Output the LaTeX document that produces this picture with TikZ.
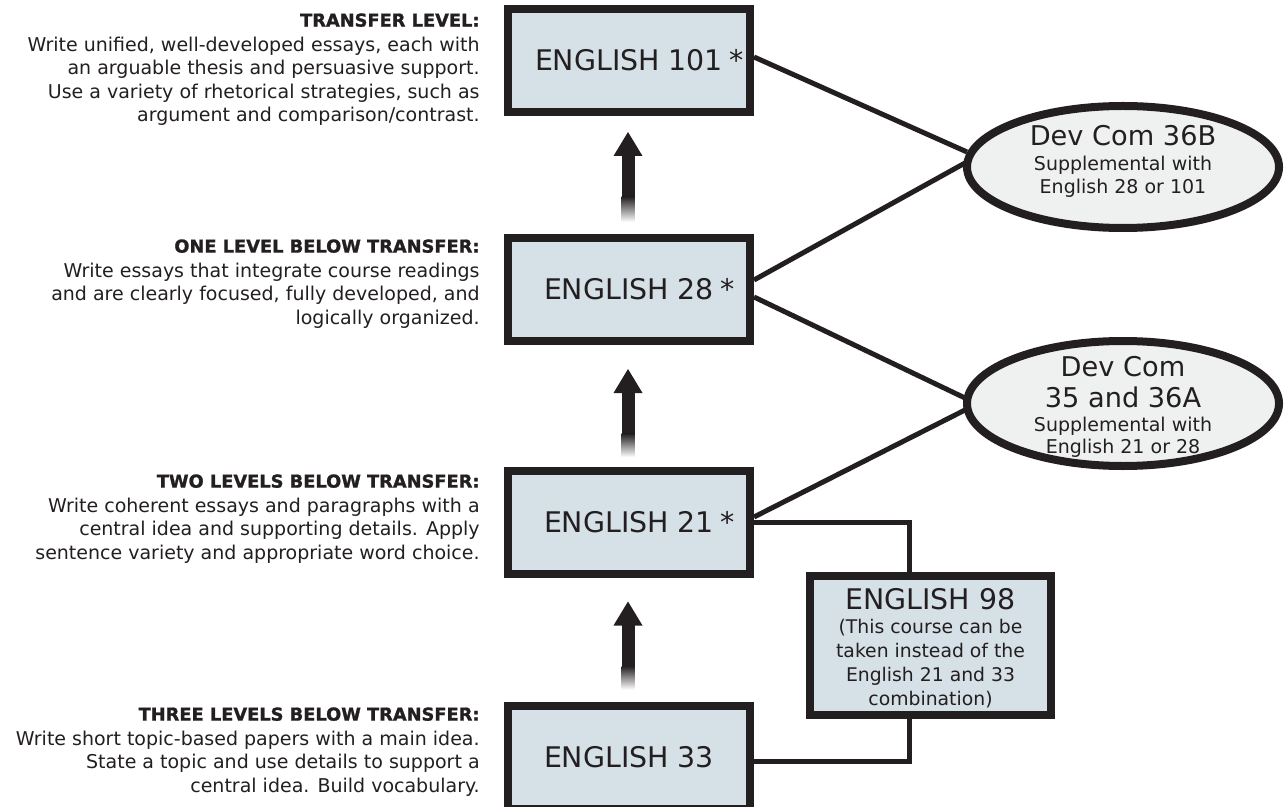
\documentclass[tikz,border=0pt]{standalone}
\usepackage{fontspec}
\setmainfont{DejaVu Sans}
\newfontfamily\headfont[FakeBold=1.2]{DejaVu Sans Bold}
\usetikzlibrary{shapes.geometric,calc}
\definecolor{ink}{HTML}{231F20}
\definecolor{boxfill}{HTML}{D6E0E7}
\definecolor{ellfill}{HTML}{EFF1F1}
\newcommand{\levelhead}[1]{{\headfont\fontsize{8.9}{11.75}\selectfont #1}}
\begin{document}
\begin{tikzpicture}[x=0.5pt,y=-0.5pt,
  course/.style={draw=ink,line width=4pt,fill=boxfill,minimum width=121pt,minimum height=51.5pt,inner sep=0pt,text=ink,font=\fontsize{14.2}{17}\selectfont},
  devcom/.style={ellipse,draw=ink,line width=4pt,fill=ellfill,minimum width=156pt,minimum height=61pt,inner sep=0pt},
  link/.style={draw=ink,line width=2.5pt},
  level/.style={anchor=north east,align=right,inner sep=0pt,text=ink,font=\fontsize{9.5}{11.75}\selectfont},
  blurb/.style={anchor=north,align=center,inner sep=0pt,text=ink,font=\fontsize{9.5}{11.5}\selectfont}]
\useasboundingbox (0,0) rectangle (1288,807);
\fill[white] (0,0) rectangle (1288,807);

% left descriptions
\node[level] (l1) at (480,13) {\levelhead{TRANSFER LEVEL:}\\[0.5pt]
  Write unified, well-developed essays, each with\\
  an arguable thesis and persuasive support.\\
  Use a variety of rhetorical strategies, such as\\
  argument and comparison/contrast.};
\node[level] (l2) at (480,239) {\levelhead{ONE LEVEL BELOW TRANSFER:}\\[0.5pt]
  Write essays that integrate course readings\\
  and are clearly focused, fully developed, and\\
  logically organized.};
\node[level] (l3) at (480,474) {\levelhead{TWO LEVELS BELOW TRANSFER:}\\[0.5pt]
  Write coherent essays and paragraphs with a\\
  central idea and supporting details. Apply\\
  sentence variety and appropriate word choice.};
\node[level] (l4) at (480,707) {\levelhead{THREE LEVELS BELOW TRANSFER:}\\[0.5pt]
  Write short topic-based papers with a main idea.\\
  State a topic and use details to support a\\
  central idea. Build vocabulary.};

% course boxes
\node[course] (b101) at (629,60.5) {ENGLISH 101\rlap{\hspace{3.5pt}*}};
\node[course] (b28) at (629,289.5) {ENGLISH 28\rlap{\hspace{3.5pt}*}};
\node[course] (b21) at (629,522) {ENGLISH 21\rlap{\hspace{3.5pt}*}};
\node[course] (b33) at (629,757.5) {ENGLISH 33};
\node[course,minimum width=120.5pt,minimum height=69.5pt] (b98) at (930.5,645.5) {};
\node[blurb,font=\fontsize{9.4}{12}\selectfont] (t98) at (930.5,588.3)
  {{\fontsize{14.2}{12}\selectfont ENGLISH 98}\\
   (This course can be\\ taken instead of the\\ English 21 and 33\\ combination)};

% supplemental ellipses
\node[devcom] (e1) at (1123,167) {};
\node[devcom,minimum height=62.5pt] (e2) at (1123,403.5) {};
\node[blurb] (t1) at (1123,125.2)
  {{\fontsize{13.6}{11.5}\selectfont Dev Com 36B}\\[1pt]
   Supplemental with\\ English 28 or 101};
\node[blurb] (t2) at (1123,355.5)
  {{\fontsize{13.6}{11.5}\selectfont Dev Com}\\[4pt]
   {\fontsize{13.6}{11.5}\selectfont 35 and 36A}\\[0.7pt]
   Supplemental with\\[-0.3pt] English 21 or 28};

% connectors
\draw[link] ([yshift=1.75pt]b101.east) -- ([shift={(2pt,7.5pt)}]e1.west);
\draw[link] ([yshift=4.75pt]b28.east) -- ([shift={(1pt,2pt)}]e1.west);
\draw[link] ([yshift=-3.75pt]b28.east) -- ([shift={(1pt,2.75pt)}]e2.west);
\draw[link] ([shift={(1pt,-3.25pt)}]e2.west) -- ([yshift=2.5pt]b21.east);
\draw[link] (b21.east) -| ([xshift=-10.75pt]b98.north);
\draw[link] ([xshift=-10.75pt]b98.south) |- ([yshift=-2pt]b33.east);

% upward arrows
\foreach \up/\gap/\len in {b101/16/90, b28/24/88, b21/24/88}{
  \coordinate (tip) at ($(\up.south)+(-1,\gap)$);
  \fill[ink] (tip) -- ++(-14.5,24) -- ++(29,0) -- cycle;
  \fill[ink] ($(tip)+(-6.5,23)$) rectangle ($(tip)+(6.5,65)$);
  \shade[top color=ink,bottom color=white] ($(tip)+(-6.5,64.5)$) rectangle ($(tip)+(6.5,\len)$);
}
\end{tikzpicture}
\end{document}
